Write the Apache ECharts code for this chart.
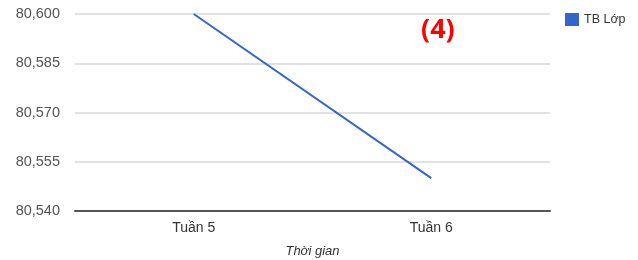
<!DOCTYPE html>
<html><head><meta charset="utf-8">
<script src="https://cdn.jsdelivr.net/npm/echarts@6/dist/echarts.min.js"></script>
<style>html,body{margin:0;padding:0;background:#fff}#c{width:638px;height:260px}</style>
</head><body><div id="c"></div>
<script>
var categories = ['Tuần 5', 'Tuần 6'];
var seriesName = 'TB Lớp';
var values = [80.600, 80.550];
var yMin = 80.540, yMax = 80.600, yInterval = 0.015;
var xAxisTitle = 'Thời gian';
var badge = '(4)';

var chart = echarts.init(document.getElementById('c'));
chart.setOption({
  animation: false,
  grid: {left: 75, right: 88, top: 14, bottom: 49, containLabel: false, outerBoundsMode: 'none'},
  legend: {
    data: [{name: seriesName, icon: 'rect'}],
    left: 560, top: 8, itemWidth: 14, itemHeight: 13, itemGap: 7,
    textStyle: {fontFamily: 'Arial, Liberation Sans', fontSize: 12.5, color: '#333'}
  },
  graphic: [{
    type: 'text', left: 421, top: 17,
    style: {text: badge, fill: '#ff0000', font: 'bold 27px "Open Sans", Arial, sans-serif'}
  }],
  xAxis: {
    type: 'category', data: categories, boundaryGap: true,
    name: xAxisTitle, nameLocation: 'middle', nameGap: 34,
    nameTextStyle: {fontFamily: 'Arial, Liberation Sans', fontStyle: 'italic', fontSize: 13, color: '#333'},
    axisLine: {lineStyle: {color: '#555', width: 2}},
    axisTick: {show: false},
    axisLabel: {fontFamily: 'Arial, Liberation Sans', fontSize: 14, color: '#333', margin: 10}
  },
  yAxis: {
    type: 'value', min: yMin, max: yMax, interval: yInterval,
    axisLine: {show: false}, axisTick: {show: false},
    splitLine: {lineStyle: {color: '#e2e2e2', width: 2}},
    axisLabel: {
      fontFamily: 'Arial, Liberation Sans', fontSize: 14.5, color: '#555', margin: 15,
      formatter: function (v) { return v.toFixed(3).replace('.', ','); }
    }
  },
  series: [{
    name: seriesName, type: 'line', data: values,
    symbol: 'none', lineStyle: {color: '#3366cc', width: 2}, itemStyle: {color: '#3366cc'}
  }]
});
</script></body></html>
